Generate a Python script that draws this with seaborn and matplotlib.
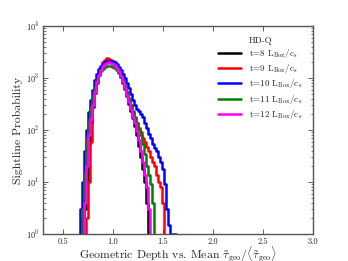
import numpy as np
import pandas as pd
import seaborn as sns
import matplotlib.pyplot as plt
from matplotlib.lines import Line2D

# bin centres of the geometric depth histogram
bins = [0.66, 0.68, 0.70, 0.72, 0.74, 0.76, 0.78, 0.80, 0.82, 0.84,
        0.86, 0.88, 0.90, 0.92, 0.94, 0.96, 0.98, 1.00, 1.02, 1.04,
        1.06, 1.08, 1.10, 1.12, 1.14, 1.16, 1.18, 1.20, 1.22, 1.24,
        1.26, 1.28, 1.30, 1.32, 1.34, 1.36, 1.38, 1.40, 1.42, 1.44,
        1.46, 1.48, 1.50, 1.52, 1.54, 1.56, 1.58, 1.60, 1.62, 1.64]

t8 = [0, 0, 2, 3, 10, 55, 140, 280, 520, 820,
      1150, 1480, 1750, 1950, 2080, 2100, 2050, 1920, 1750, 1550,
      1320, 1060, 820, 610, 450, 320, 230, 170, 120, 80,
      50, 30, 18, 10, 4, 0, 0, 0, 0, 0,
      0, 0, 0, 0, 0, 0, 0, 0, 0, 0]
t9 = [0, 0, 0, 0, 2, 10, 60, 300, 550, 850,
      1250, 1650, 2000, 2250, 2400, 2350, 2200, 2000, 1780, 1550,
      1320, 1100, 880, 690, 530, 400, 300, 220, 170, 135,
      110, 90, 72, 60, 48, 40, 30, 24, 20, 14,
      10, 8, 4, 0, 0, 0, 0, 0, 0, 0]
t10 = [0, 3, 10, 40, 100, 220, 380, 600, 900, 1200,
       1480, 1700, 1880, 2000, 2100, 2150, 2150, 2100, 2000, 1850,
       1650, 1420, 1200, 1000, 820, 650, 500, 380, 300, 260,
       230, 200, 175, 140, 110, 85, 70, 55, 45, 40,
       30, 24, 18, 9, 3, 1.5, 1, 1, 1, 0]
t11 = [0, 0, 3, 15, 70, 150, 280, 450, 680, 920,
       1150, 1350, 1520, 1620, 1680, 1700, 1700, 1650, 1550, 1420,
       1250, 1060, 870, 700, 540, 410, 310, 230, 175, 140,
       105, 80, 55, 35, 20, 14, 9, 4, 0, 0,
       0, 0, 0, 0, 0, 0, 0, 0, 0, 0]
t12 = [0, 0, 0, 4, 20, 80, 160, 300, 550, 850,
       1150, 1450, 1700, 1880, 1980, 2000, 1980, 1880, 1750, 1580,
       1350, 1100, 850, 640, 470, 340, 250, 180, 140, 95,
       65, 40, 24, 14, 8, 3, 0, 0, 0, 0,
       0, 0, 0, 0, 0, 0, 0, 0, 0, 0]

labels = [r't=8 L$_{\rm Box}$/c$_{\rm s}$',
          r't=9 L$_{\rm Box}$/c$_{\rm s}$',
          r't=10 L$_{\rm Box}$/c$_{\rm s}$',
          r't=11 L$_{\rm Box}$/c$_{\rm s}$',
          r't=12 L$_{\rm Box}$/c$_{\rm s}$']
colors = ['black', 'red', 'blue', 'green', 'magenta']

df = pd.concat([pd.DataFrame({'x': bins, 'p': v, 'run': lab})
                for v, lab in zip([t8, t9, t10, t11, t12], labels)])

sns.set_style('ticks')
plt.rcParams['font.family'] = ['cmr10', 'DejaVu Serif']
plt.rcParams['axes.formatter.use_mathtext'] = True
plt.rcParams['mathtext.fontset'] = 'cm'
plt.rcParams['xtick.direction'] = 'in'
plt.rcParams['ytick.direction'] = 'in'

fig = plt.figure(figsize=(3.48, 2.61), dpi=100)
ax = fig.add_axes([0.124, 0.103, 0.775, 0.797])

sns.lineplot(data=df, x='x', y='p', hue='run', palette=colors,
             estimator=None, sort=True, drawstyle='steps-mid',
             linewidth=1.8, legend=False, ax=ax)

ax.set_yscale('log')
ax.set_xlim(0.3, 3.0)
ax.set_ylim(1, 1e4)
ax.set_xticks([0.5, 1.0, 1.5, 2.0, 2.5, 3.0])
ax.set_xticklabels(['0.5', '1.0', '1.5', '2.0', '2.5', '3.0'])
ax.tick_params(which='both', top=True, right=True, labelsize=6, pad=2.5,
               color='#444444')
ax.tick_params(which='major', length=3.5, width=0.6)
ax.tick_params(which='minor', length=1.8, width=0.5)
for s in ax.spines.values():
    s.set_linewidth(1.0)
    s.set_color('#555555')

ax.set_xlabel(r'Geometric Depth vs. Mean $\tilde{\tau}_{\rm geo}/\langle\tilde{\tau}_{\rm geo}\rangle$',
              fontsize=8.5)
ax.xaxis.set_label_coords(0.5, -0.05)
ax.set_ylabel('Sightline Probability', fontsize=8.5, labelpad=2)

handles = [Line2D([], [], color='none', label='HD-Q')]
handles += [Line2D([], [], color=c, lw=1.8, label=l) for c, l in zip(colors, labels)]
ax.legend(handles=handles, loc='upper right', frameon=False, fontsize=6.5,
          handlelength=2.6, handletextpad=0.8, labelspacing=0.25,
          bbox_to_anchor=(0.99, 0.99))

fig.savefig('out.png', dpi=100)
